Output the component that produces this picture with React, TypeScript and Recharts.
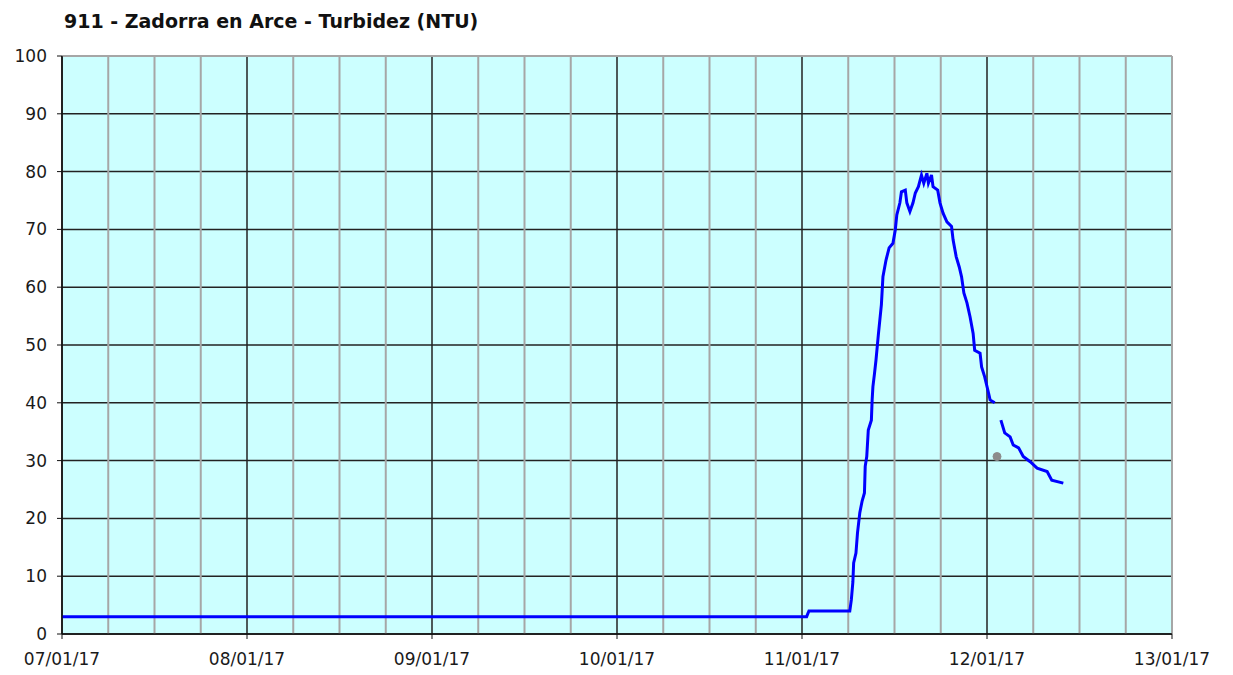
import React from 'react';
import {
	CartesianGrid,
	ComposedChart,
	Line,
	ReferenceLine,
	XAxis,
	YAxis,
} from 'recharts';

// hours since 07/01/17 00:00
const hours = [
	0, 96.6, 96.9, 102.2, 102.4, 102.6, 102.7, 103.0, 103.2, 103.5, 103.8, 104.1, 104.2, 104.4, 104.6,
	105.0, 105.1, 105.2, 105.4, 105.6, 105.9, 106.3, 106.5, 106.9, 107.3, 107.8, 108.1, 108.3, 108.7,
	108.9, 109.4, 109.6, 110.0, 110.4, 110.7, 111.1, 111.5, 111.8, 112.2, 112.4, 112.8, 113.0, 113.6,
	113.9, 114.3, 114.8, 115.4, 115.6, 116.0, 116.4, 116.7, 117.0, 117.4, 117.8, 118.2, 118.4, 119.1,
	119.3, 119.7, 120.2, 120.4, 121.0, 121.4, 121.8, 122.3, 123.0, 123.4, 124.1, 124.7, 125.6, 126.5,
	127.8, 128.4, 129.9,
];
const turbidity: (number | null)[] = [
	3, 3, 4, 4, 5.9, 9, 12.3, 14, 17.5, 21, 23, 24.4, 29, 30.7, 35.3,
	37, 40.5, 42.8, 45, 47.4, 51.7, 57, 61.8, 64.7, 66.8, 67.6, 69.9, 72.5, 74.6,
	76.5, 76.8, 74.6, 73.1, 74.6, 76.3, 77.4, 79.4, 78, 79.7, 78, 79.4, 77.4, 76.8,
	74.6, 72.8, 71.3, 70.5, 68.2, 65.3, 63.5, 61.8, 59, 57.3, 54.9, 52, 49.1, 48.6,
	46.2, 44.5, 41.7, 40.5, 40, null, 37, 34.8, 34.1, 32.7, 32.2, 30.7, 29.8, 28.7,
	28.1, 26.6, 26.1,
];
const spotHours = [121.3];
const spotValues = [30.7];

const dayTicks = [0, 24, 48, 72, 96, 120, 144];
const dayLabels = ['07/01/17', '08/01/17', '09/01/17', '10/01/17', '11/01/17', '12/01/17', '13/01/17'];
const minorTicks = [6, 12, 18, 30, 36, 42, 54, 60, 66, 78, 84, 90, 102, 108, 114, 126, 132, 138, 144];
const valueTicks = [0, 10, 20, 30, 40, 50, 60, 70, 80, 90, 100];

const rows = [
	...hours.map((t, i) => ({ t, ntu: turbidity[i] })),
	...spotHours.map((t, i) => ({ t, spot: spotValues[i] })),
].sort((a, b) => a.t - b.t);

const font = '"DejaVu Sans", Verdana, sans-serif';
const tickStyle = { fill: '#1a1a1a', fontSize: 17, fontFamily: font };

export default function App() {
	return (
		<div style={{ position: 'absolute', left: 0, top: 0, width: 1233, height: 675, background: '#fff' }}>
			<div
				style={{
					position: 'absolute',
					left: 64,
					top: 10,
					fontFamily: font,
					fontWeight: 'bold',
					fontSize: 19,
					color: '#111',
				}}
			>
				911 - Zadorra en Arce - Turbidez (NTU)
			</div>
			<ComposedChart width={1233} height={675} data={rows} margin={{ top: 56, right: 61, left: 0, bottom: 0 }}>
				<CartesianGrid fill="#ccffff" stroke="#222" strokeWidth={1.5} />
				{minorTicks.map((h) => (
					<ReferenceLine key={h} x={h} stroke="#a6a6a6" strokeWidth={2} />
				))}
				<ReferenceLine y={100} stroke="#a6a6a6" strokeWidth={2} />
				<XAxis
					dataKey="t"
					type="number"
					domain={[0, 144]}
					ticks={dayTicks}
					tickFormatter={(v: number) => dayLabels[dayTicks.indexOf(v)]}
					tick={tickStyle}
					tickSize={5}
					tickMargin={14}
					tickLine={{ stroke: '#111' }}
					axisLine={{ stroke: '#111', strokeWidth: 1.5 }}
					height={41}
					interval={0}
				/>
				<YAxis
					type="number"
					domain={[0, 100]}
					ticks={valueTicks}
					tick={tickStyle}
					tickSize={5}
					tickMargin={10}
					tickLine={{ stroke: '#111' }}
					axisLine={{ stroke: '#111', strokeWidth: 1.5 }}
					width={62}
					interval={0}
				/>
				<Line
					dataKey="ntu"
					type="linear"
					stroke="#0000ff"
					strokeWidth={3}
					dot={false}
					connectNulls={false}
					isAnimationActive={false}
				/>
				<Line
					dataKey="spot"
					stroke="none"
					dot={{ r: 4, fill: '#8c8c8c', stroke: '#8c8c8c' }}
					isAnimationActive={false}
				/>
			</ComposedChart>
		</div>
	);
}
